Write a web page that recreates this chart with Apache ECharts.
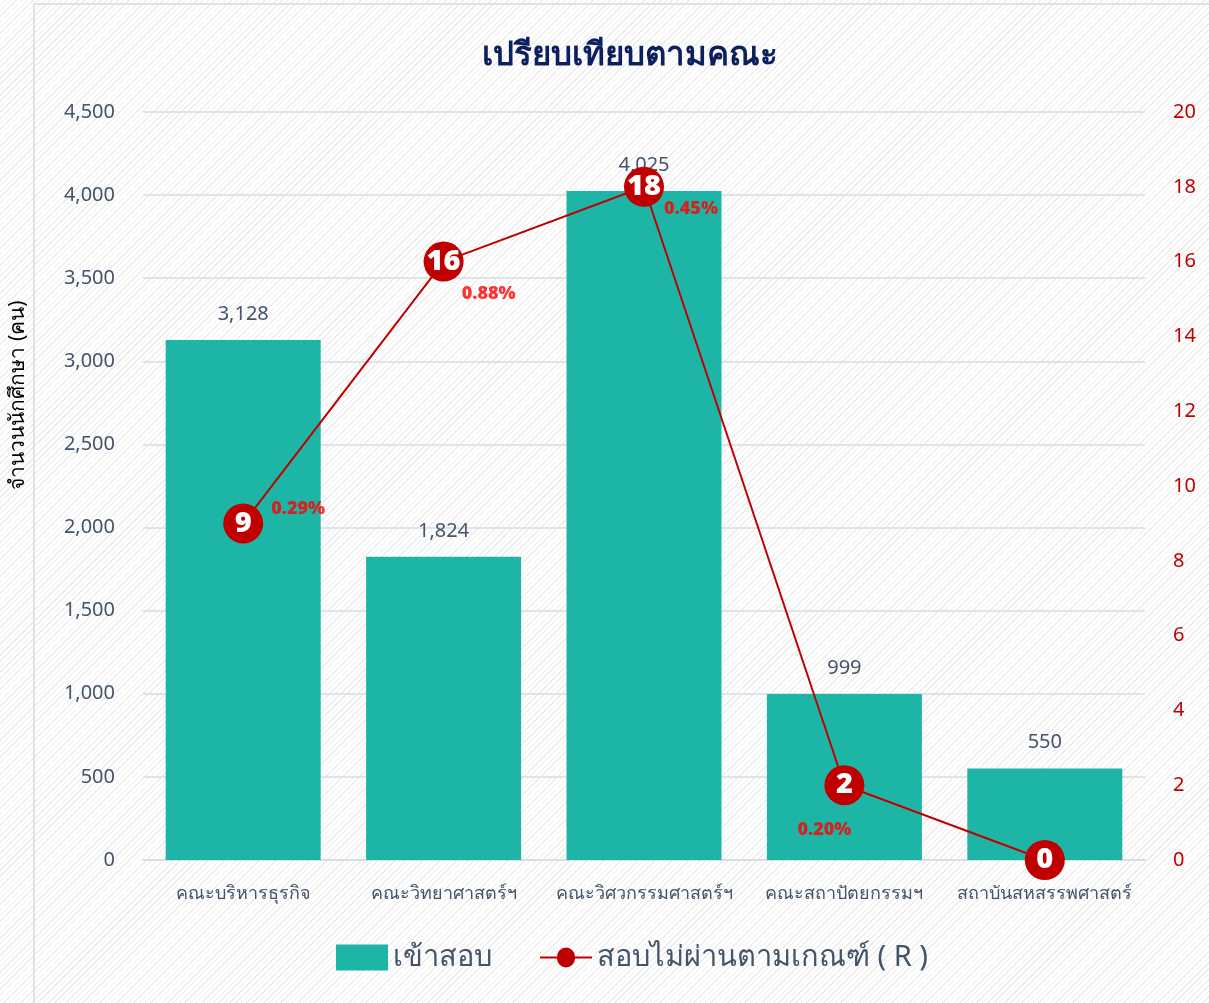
<!DOCTYPE html>
<html>
<head>
<meta charset="utf-8">
<script src="https://cdn.jsdelivr.net/npm/echarts@6/dist/echarts.min.js"></script>
<style>
  html, body {
    margin: 0;
    padding: 0;
    width: 1209px;
    height: 1003px;
    overflow: hidden;
    background-color: #fff;
    background-image: repeating-linear-gradient(-45deg, #ececec 0px, #ececec 1px, #fff 1px, #fff 4px);
  }
  .card {
    position: absolute;
    left: 33px;
    top: 3px;
    width: 1190px;
    height: 1010px;
    border: 2px solid #e2e2e2;
    box-sizing: border-box;
  }
  #chart {
    position: absolute;
    left: 0;
    top: 0;
    width: 1209px;
    height: 1003px;
  }
</style>
</head>
<body>
<div class="card"></div>
<div id="chart"></div>
<script>
// ข้อมูลจากกราฟ
const faculties = ["คณะบริหารธุรกิจ", "คณะวิทยาศาสตร์ฯ", "คณะวิศวกรรมศาสตร์ฯ", "คณะสถาปัตยกรรมฯ", "สถาบันสหสรรพศาสตร์"];
const examTakers = [3128, 1824, 4025, 999, 550];
const failedCount = [9, 16, 18, 2, 0];
const failedPct = ["0.29%", "0.88%", "0.45%", "0.20%", ""];

const font = "'Noto Sans', 'DejaVu Sans', sans-serif";
const slate = "#44546a";
const red = "#c00000";

// ตำแหน่งป้าย % ของแต่ละจุด
const pctLabelOffset = [[55, -15], [45, 32], [47, 22], [-20, 45], [0, 0]];

const chart = echarts.init(document.getElementById("chart"));
chart.setOption({
  backgroundColor: "transparent",
  textStyle: { fontFamily: font },
  title: {
    text: "เปรียบเทียบตามคณะ",
    left: 625,
    textAlign: "center",
    top: 34,
    textStyle: { fontSize: 33, fontWeight: 900, color: "#0c1f5e", fontFamily: font }
  },
  legend: {
    bottom: 26,
    left: 331,
    itemGap: 48,
    itemWidth: 52,
    itemHeight: 26,
    textStyle: { fontSize: 29, color: slate, fontFamily: font },
    data: [
      { name: "เข้าสอบ", icon: "rect" },
      {
        name: "สอบไม่ผ่านตามเกณฑ์ ( R )",
        icon: "path://M0,12H17A8,8 0 0,1 35,12H52V14H35A8,8 0 0,1 17,14H0Z",
        itemStyle: { color: red }
      }
    ]
  },
  grid: { left: 143, right: 64, top: 112, bottom: 143 },
  graphic: [{
    type: "text",
    x: 18,
    y: 395,
    rotation: Math.PI / 2,
    style: {
      text: "จำนวนนักศึกษา (คน)",
      align: "center",
      verticalAlign: "middle",
      fontSize: 21,
      fill: "#000",
      fontFamily: font
    }
  }],
  xAxis: {
    type: "category",
    data: faculties,
    axisTick: { show: false },
    axisLine: { lineStyle: { color: "#d9dee6", width: 2 } },
    axisLabel: { fontSize: 18, color: slate, margin: 25, interval: 0 }
  },
  yAxis: [
    {
      type: "value",
      min: 0,
      max: 4500,
      interval: 500,
      axisLabel: {
        fontSize: 20,
        color: slate,
        margin: 28,
        formatter: v => v.toLocaleString("en-US")
      },
      splitLine: { lineStyle: { color: "#dfe3ea", width: 2 } }
    },
    {
      type: "value",
      min: 0,
      max: 20,
      interval: 2,
      axisLabel: { fontSize: 20, color: red, margin: 28 },
      splitLine: { show: false }
    }
  ],
  series: [
    {
      name: "เข้าสอบ",
      type: "bar",
      data: examTakers,
      barWidth: 155,
      itemStyle: { color: "#1db6a6" },
      label: {
        show: true,
        position: "top",
        distance: 16,
        fontSize: 20,
        color: slate,
        formatter: p => p.value.toLocaleString("en-US")
      }
    },
    {
      name: "สอบไม่ผ่านตามเกณฑ์ ( R )",
      type: "line",
      yAxisIndex: 1,
      data: failedCount,
      symbol: "circle",
      symbolSize: 40,
      lineStyle: { color: red, width: 2 },
      itemStyle: { color: red },
      label: {
        show: true,
        position: "inside",
        fontSize: 29,
        fontWeight: 900,
        color: "#fff"
      },
      z: 5
    },
    {
      name: "pct",
      type: "scatter",
      yAxisIndex: 1,
      symbolSize: 0,
      silent: true,
      data: failedCount.map((v, i) => ({
        value: v,
        label: { offset: pctLabelOffset[i] }
      })),
      label: {
        show: true,
        position: "inside",
        fontSize: 18,
        fontWeight: 900,
        color: "#ff0000",
        formatter: p => failedPct[p.dataIndex]
      },
      z: 6
    }
  ]
});
</script>
</body>
</html>
